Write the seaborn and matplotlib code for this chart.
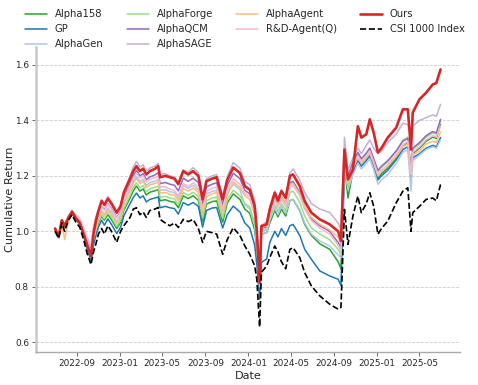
import numpy as np
import pandas as pd
import matplotlib
matplotlib.use("Agg")
import matplotlib.pyplot as plt
import matplotlib.dates as mdates
import seaborn as sns

sns.set_style('ticks')
plt.rcParams['font.family'] = ['DejaVu Sans']

# dates
dates = ['2022-07-01', '2022-07-11', '2022-07-20', '2022-07-28', '2022-08-08', '2022-08-18',
         '2022-08-30', '2022-09-09', '2022-09-20', '2022-09-30', '2022-10-11', '2022-10-18',
         '2022-10-25', '2022-11-01', '2022-11-10', '2022-11-18', '2022-11-28', '2022-12-08',
         '2022-12-23', '2023-01-03', '2023-01-12', '2023-01-30', '2023-02-08', '2023-02-17',
         '2023-02-27', '2023-03-08', '2023-03-17', '2023-03-27', '2023-04-10', '2023-04-20',
         '2023-04-25', '2023-05-10', '2023-05-23', '2023-06-05', '2023-06-16', '2023-06-30',
         '2023-07-14', '2023-07-28', '2023-08-12', '2023-08-24', '2023-09-04', '2023-09-20',
         '2023-10-03', '2023-10-20', '2023-11-02', '2023-11-19', '2023-12-08', '2023-12-22',
         '2024-01-05', '2024-01-19', '2024-01-25', '2024-02-02', '2024-02-07', '2024-02-22',
         '2024-03-02', '2024-03-16', '2024-03-25', '2024-04-04', '2024-04-16', '2024-04-28',
         '2024-05-07', '2024-05-26', '2024-06-09', '2024-06-28', '2024-07-22', '2024-08-19',
         '2024-09-12', '2024-09-20', '2024-09-30', '2024-10-10', '2024-10-24', '2024-11-07',
         '2024-11-17', '2024-12-01', '2024-12-11', '2024-12-22', '2025-01-03', '2025-01-13',
         '2025-01-31', '2025-02-24', '2025-03-15', '2025-03-29', '2025-04-07', '2025-04-12',
         '2025-05-01', '2025-05-20', '2025-06-08', '2025-06-18', '2025-06-30']

alpha158 = [1.000, 0.978, 1.040, 1.018, 1.052, 1.075, 1.052, 1.035, 0.995, 0.950, 0.905, 0.970,
            1.000, 1.030, 1.055, 1.040, 1.060, 1.042, 1.010, 1.032, 1.075, 1.120, 1.146, 1.163,
            1.145, 1.153, 1.131, 1.141, 1.146, 1.150, 1.110, 1.114, 1.108, 1.105, 1.085, 1.128,
            1.118, 1.128, 1.112, 1.035, 1.098, 1.107, 1.110, 1.033, 1.102, 1.135, 1.115, 1.080,
            1.065, 1.005, 0.935, 0.800, 0.990, 0.995, 1.030, 1.075, 1.052, 1.080, 1.055, 1.110,
            1.115, 1.075, 1.025, 0.985, 0.955, 0.935, 0.890, 0.865, 1.240, 1.120, 1.215, 1.265,
            1.245, 1.265, 1.282, 1.245, 1.190, 1.208, 1.228, 1.265, 1.310, 1.320, 1.195, 1.280,
            1.300, 1.325, 1.340, 1.335, 1.386]
gp = [1.000, 0.978, 1.035, 1.010, 1.045, 1.065, 1.042, 1.025, 0.985, 0.935, 0.895, 0.950,
      0.985, 1.015, 1.040, 1.022, 1.045, 1.025, 0.992, 1.015, 1.055, 1.100, 1.122, 1.138,
      1.120, 1.128, 1.106, 1.115, 1.120, 1.124, 1.085, 1.090, 1.085, 1.082, 1.062, 1.104,
      1.094, 1.104, 1.090, 1.015, 1.075, 1.084, 1.086, 1.012, 1.060, 1.091, 1.070, 1.030,
      1.012, 0.950, 0.880, 0.755, 0.888, 0.900, 0.960, 1.000, 0.980, 1.010, 0.985, 1.020,
      1.025, 0.985, 0.935, 0.899, 0.857, 0.839, 0.827, 0.805, 1.220, 1.155, 1.215, 1.255,
      1.235, 1.255, 1.272, 1.235, 1.185, 1.200, 1.220, 1.258, 1.295, 1.305, 1.210, 1.265,
      1.280, 1.300, 1.310, 1.305, 1.338]
alphagen = [1.000, 0.980, 1.035, 1.010, 1.045, 1.065, 1.045, 1.030, 0.995, 0.950, 0.905, 0.975,
            1.010, 1.045, 1.075, 1.062, 1.085, 1.068, 1.035, 1.058, 1.102, 1.152, 1.180, 1.198,
            1.180, 1.188, 1.166, 1.176, 1.180, 1.188, 1.148, 1.150, 1.143, 1.140, 1.120, 1.165,
            1.155, 1.166, 1.150, 1.070, 1.135, 1.144, 1.148, 1.072, 1.140, 1.170, 1.150, 1.095,
            1.080, 1.020, 0.950, 0.800, 0.990, 0.995, 1.040, 1.085, 1.060, 1.090, 1.065, 1.110,
            1.115, 1.078, 1.030, 0.990, 0.965, 0.947, 0.915, 0.905, 1.230, 1.150, 1.205, 1.245,
            1.225, 1.245, 1.262, 1.222, 1.170, 1.185, 1.205, 1.245, 1.285, 1.295, 1.145, 1.255,
            1.275, 1.295, 1.305, 1.300, 1.330]
alphaforge = [1.000, 0.980, 1.038, 1.015, 1.050, 1.072, 1.050, 1.035, 0.995, 0.955, 0.910, 0.975,
              1.005, 1.035, 1.060, 1.045, 1.068, 1.050, 1.018, 1.040, 1.082, 1.130, 1.158, 1.175,
              1.157, 1.165, 1.143, 1.153, 1.158, 1.163, 1.123, 1.126, 1.120, 1.117, 1.097, 1.140,
              1.130, 1.141, 1.126, 1.048, 1.110, 1.120, 1.124, 1.046, 1.115, 1.148, 1.128, 1.100,
              1.088, 1.030, 0.955, 0.810, 1.000, 1.005, 1.050, 1.095, 1.072, 1.100, 1.075, 1.140,
              1.145, 1.105, 1.055, 1.012, 0.990, 0.970, 0.935, 0.915, 1.250, 1.160, 1.240, 1.280,
              1.258, 1.280, 1.298, 1.258, 1.215, 1.230, 1.250, 1.288, 1.330, 1.340, 1.215, 1.295,
              1.315, 1.340, 1.355, 1.350, 1.397]
alphaqcm = [1.005, 0.982, 1.038, 1.015, 1.050, 1.068, 1.050, 1.035, 1.000, 0.960, 0.920, 0.985,
            1.030, 1.060, 1.090, 1.078, 1.100, 1.082, 1.050, 1.072, 1.120, 1.172, 1.200, 1.220,
            1.200, 1.208, 1.186, 1.196, 1.203, 1.212, 1.172, 1.176, 1.170, 1.166, 1.146, 1.192,
            1.180, 1.192, 1.176, 1.095, 1.160, 1.170, 1.175, 1.095, 1.165, 1.210, 1.190, 1.148,
            1.135, 1.075, 0.990, 0.820, 1.010, 1.015, 1.065, 1.120, 1.095, 1.125, 1.100, 1.175,
            1.180, 1.140, 1.090, 1.045, 1.020, 1.000, 0.960, 0.940, 1.280, 1.200, 1.250, 1.285,
            1.262, 1.282, 1.300, 1.262, 1.220, 1.235, 1.255, 1.290, 1.325, 1.335, 1.220, 1.300,
            1.320, 1.345, 1.360, 1.355, 1.404]
alphasage = [1.005, 0.985, 1.040, 1.020, 1.055, 1.072, 1.055, 1.045, 1.010, 0.975, 0.940, 1.010,
             1.050, 1.080, 1.115, 1.100, 1.125, 1.105, 1.072, 1.095, 1.145, 1.200, 1.232, 1.252,
             1.232, 1.240, 1.218, 1.228, 1.235, 1.245, 1.205, 1.208, 1.200, 1.196, 1.176, 1.222,
             1.212, 1.230, 1.212, 1.125, 1.190, 1.200, 1.205, 1.125, 1.198, 1.248, 1.228, 1.180,
             1.168, 1.110, 1.030, 0.830, 1.020, 1.035, 1.090, 1.145, 1.120, 1.150, 1.125, 1.210,
             1.225, 1.185, 1.140, 1.100, 1.080, 1.068, 1.030, 1.005, 1.339, 1.220, 1.265, 1.300,
             1.280, 1.310, 1.330, 1.300, 1.280, 1.290, 1.320, 1.350, 1.390, 1.385, 1.350, 1.380,
             1.400, 1.410, 1.420, 1.415, 1.458]
alphaagent = [1.000, 0.975, 1.030, 0.970, 1.040, 1.062, 1.040, 1.028, 0.990, 0.955, 0.915, 0.975,
              1.010, 1.040, 1.070, 1.055, 1.078, 1.060, 1.028, 1.050, 1.095, 1.145, 1.172, 1.190,
              1.172, 1.180, 1.158, 1.168, 1.172, 1.178, 1.138, 1.140, 1.133, 1.130, 1.110, 1.155,
              1.145, 1.156, 1.140, 1.062, 1.125, 1.135, 1.140, 1.062, 1.130, 1.178, 1.158, 1.128,
              1.115, 1.060, 0.985, 0.830, 1.015, 1.020, 1.070, 1.120, 1.095, 1.125, 1.100, 1.170,
              1.172, 1.135, 1.090, 1.050, 1.025, 1.005, 0.980, 0.955, 1.260, 1.170, 1.225, 1.265,
              1.245, 1.265, 1.282, 1.245, 1.200, 1.215, 1.235, 1.270, 1.305, 1.315, 1.205, 1.275,
              1.290, 1.315, 1.325, 1.320, 1.358]
rdagent = [1.005, 0.985, 1.042, 1.020, 1.055, 1.072, 1.058, 1.045, 1.010, 0.975, 0.950, 1.020,
           1.040, 1.060, 1.090, 1.075, 1.098, 1.080, 1.048, 1.070, 1.115, 1.165, 1.192, 1.210,
           1.192, 1.200, 1.178, 1.188, 1.193, 1.200, 1.160, 1.160, 1.152, 1.148, 1.128, 1.172,
           1.162, 1.175, 1.160, 1.080, 1.145, 1.155, 1.160, 1.082, 1.150, 1.190, 1.170, 1.138,
           1.125, 1.065, 0.985, 0.820, 1.005, 1.010, 1.060, 1.110, 1.085, 1.115, 1.090, 1.160,
           1.165, 1.128, 1.080, 1.038, 1.012, 0.990, 0.950, 0.930, 1.270, 1.180, 1.235, 1.270,
           1.250, 1.270, 1.290, 1.250, 1.205, 1.220, 1.240, 1.278, 1.312, 1.325, 1.205, 1.285,
           1.305, 1.330, 1.345, 1.340, 1.380]
ours = [1.010, 0.980, 1.040, 1.020, 1.050, 1.070, 1.045, 1.030, 0.990, 0.950, 0.910, 0.990,
        1.040, 1.073, 1.109, 1.095, 1.118, 1.100, 1.067, 1.090, 1.139, 1.190, 1.217, 1.235,
        1.217, 1.226, 1.205, 1.217, 1.225, 1.235, 1.195, 1.200, 1.195, 1.190, 1.170, 1.217,
        1.205, 1.217, 1.200, 1.115, 1.181, 1.190, 1.195, 1.115, 1.185, 1.230, 1.210, 1.163,
        1.150, 1.091, 1.000, 0.815, 1.019, 1.025, 1.080, 1.139, 1.110, 1.145, 1.120, 1.200,
        1.205, 1.163, 1.109, 1.067, 1.043, 1.025, 1.000, 0.965, 1.295, 1.187, 1.223, 1.379,
        1.338, 1.350, 1.404, 1.356, 1.284, 1.300, 1.338, 1.374, 1.440, 1.440, 1.295, 1.428,
        1.476, 1.500, 1.530, 1.535, 1.584]
csi1000 = [1.000, 0.975, 1.030, 1.000, 1.040, 1.060, 1.030, 1.015, 0.970, 0.920, 0.880, 0.925,
           0.955, 0.990, 1.010, 0.990, 1.020, 1.000, 0.960, 1.000, 1.020, 1.050, 1.080, 1.085,
           1.060, 1.070, 1.050, 1.075, 1.080, 1.086, 1.043, 1.030, 1.020, 1.030, 1.014, 1.043,
           1.035, 1.043, 1.010, 0.960, 1.000, 0.995, 0.990, 0.917, 0.970, 1.013, 0.985, 0.947,
           0.917, 0.875, 0.827, 0.655, 0.852, 0.875, 0.906, 0.947, 0.925, 0.890, 0.865, 0.935,
           0.941, 0.905, 0.851, 0.803, 0.767, 0.737, 0.719, 0.725, 1.079, 0.953, 1.055, 1.127,
           1.067, 1.100, 1.139, 1.090, 0.989, 1.010, 1.037, 1.103, 1.145, 1.157, 1.000, 1.067,
           1.090, 1.115, 1.120, 1.110, 1.169]

names = ['Alpha158', 'GP', 'AlphaGen', 'AlphaForge', 'AlphaQCM', 'AlphaSAGE',
         'AlphaAgent', 'R&D-Agent(Q)', 'Ours', 'CSI 1000 Index']
series = [alpha158, gp, alphagen, alphaforge, alphaqcm, alphasage,
          alphaagent, rdagent, ours, csi1000]
colors = ['#2ca02c', '#1f77b4', '#aec7e8', '#98df8a', '#9467bd', '#c5b0d5',
          '#ffbb78', '#f7b6d2', '#d62728', 'black']

df = pd.DataFrame({'Date': pd.to_datetime(dates)})
for n, s in zip(names, series):
    df[n] = s

fig, ax = plt.subplots(figsize=(4.78, 3.85), dpi=100)
fig.subplots_adjust(left=0.075, right=0.962, bottom=0.086, top=0.878)

for n, c in zip(names, colors):
    if n == 'Ours':
        sns.lineplot(data=df, x='Date', y=n, ax=ax, color=c, linewidth=1.9, label=n)
    elif n == 'CSI 1000 Index':
        sns.lineplot(data=df, x='Date', y=n, ax=ax, color=c, linewidth=1.2,
                     linestyle='--', label=n)
    else:
        sns.lineplot(data=df, x='Date', y=n, ax=ax, color=c, linewidth=1.1, label=n)

ax.set_ylim(0.565, 1.665)
ax.set_yticks([0.6, 0.8, 1.0, 1.2, 1.4, 1.6])
ax.xaxis.set_major_locator(mdates.MonthLocator(bymonth=[1, 5, 9]))
ax.xaxis.set_major_formatter(mdates.DateFormatter('%Y-%m'))
ax.tick_params(labelsize=6.4, length=3, width=0.6, color='#555555', pad=2)
ax.set_xlabel('Date', fontsize=8.1, labelpad=2)
ax.set_ylabel('Cumulative Return', fontsize=8.1)
ax.yaxis.set_label_coords(-0.05, 0.5)
ax.grid(axis='y', linestyle='--', linewidth=0.6, color='#cccccc')

sns.despine(ax=ax)
ax.spines['left'].set_color('#c8c8c8')
ax.spines['left'].set_linewidth(1.8)
ax.spines['bottom'].set_color('#aaaaaa')
ax.spines['bottom'].set_linewidth(1.0)

handles, labels = ax.get_legend_handles_labels()
ax.get_legend().remove()
fig.legend(handles, labels, loc='upper left', bbox_to_anchor=(0.033, 1.0), ncol=4,
           frameon=False, fontsize=7.2, handlelength=2.2, columnspacing=2.3)

fig.savefig('out.png', dpi=100)
